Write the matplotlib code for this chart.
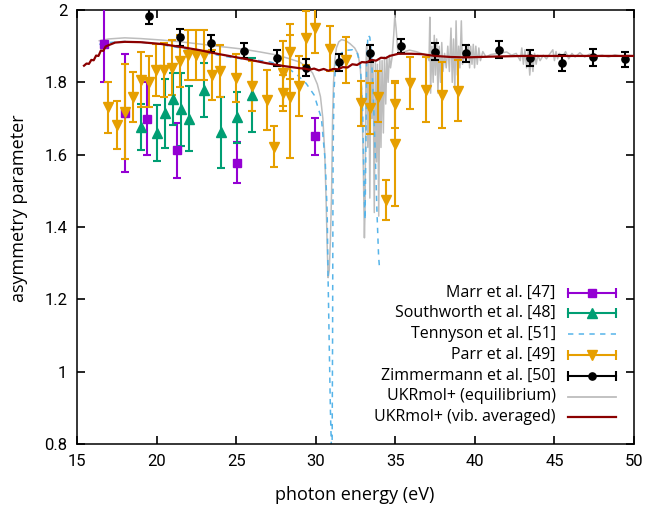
import matplotlib
matplotlib.use("Agg")
import matplotlib.pyplot as plt
from matplotlib.lines import Line2D

# ---------------- data ----------------
marr_E = [16.71, 18.01, 19.38, 21.26, 25.03, 29.98]
marr_b = [1.905, 1.715, 1.700, 1.612, 1.578, 1.651]
marr_err = [0.104, 0.163, 0.100, 0.076, 0.056, 0.051]

south_E = [19.02, 20.00, 20.52, 21.05, 21.53, 22.03, 22.99, 24.02, 25.03, 25.97]
south_b = [1.677, 1.660, 1.714, 1.754, 1.726, 1.700, 1.779, 1.662, 1.703, 1.765]
south_err = [0.063, 0.078, 0.095, 0.072, 0.101, 0.091, 0.075, 0.098, 0.070, 0.102]

parr_E = [16.96, 17.49, 18.01, 18.50, 19.00, 19.52, 19.96, 20.48, 20.98, 21.47,
          21.99, 22.47, 22.97, 23.46, 23.98, 24.98, 25.97, 26.97, 27.37, 27.95,
          27.92, 28.41, 28.41, 28.94, 29.42, 29.94, 30.88, 31.93, 32.87, 33.44,
          33.91, 34.44, 34.96, 34.96, 35.95, 36.95, 37.96, 38.94]
parr_b = [1.731, 1.682, 1.719, 1.759, 1.807, 1.802, 1.833, 1.834, 1.841, 1.859,
          1.876, 1.876, 1.876, 1.820, 1.832, 1.811, 1.790, 1.751, 1.622, 1.825,
          1.770, 1.885, 1.760, 1.790, 1.922, 1.950, 1.893, 1.862, 1.742, 1.728,
          1.760, 1.474, 1.740, 1.629, 1.797, 1.779, 1.765, 1.777]
parr_err = [0.070, 0.067, 0.132, 0.070, 0.076, 0.070, 0.072, 0.075, 0.076, 0.072,
            0.070, 0.070, 0.070, 0.070, 0.072, 0.066, 0.069, 0.083, 0.057, 0.090,
            0.050, 0.075, 0.170, 0.084, 0.075, 0.070, 0.063, 0.063, 0.062, 0.070,
            0.070, 0.055, 0.065, 0.170, 0.072, 0.090, 0.092, 0.084]

zimm_E = [19.54, 21.47, 23.39, 25.50, 27.54, 29.42, 31.47, 33.44, 35.38, 37.47,
          39.42, 41.49, 43.44, 45.49, 47.45, 49.44]
zimm_b = [1.983, 1.924, 1.908, 1.888, 1.867, 1.841, 1.855, 1.880, 1.900, 1.885,
          1.880, 1.890, 1.868, 1.853, 1.869, 1.864]
zimm_err = [0.023, 0.023, 0.024, 0.022, 0.022, 0.023, 0.023, 0.024, 0.019, 0.024,
            0.024, 0.024, 0.022, 0.023, 0.023, 0.021]

tenn_E = [16.4, 17.0, 18.0, 19.0, 20.0, 21.0, 22.0, 23.0, 24.0, 25.0, 26.0, 27.0,
          27.5, 28.3, 28.9, 29.4, 29.9, 30.36, 30.6, 30.72, 30.78, 30.86, 30.92,
          30.99, 31.03, 31.06, 31.09, 31.15, 31.25, 31.4, 31.8, 32.3, 32.6, 32.8,
          32.95, 33.05, 33.1, 33.15, 33.2, 33.28, 33.4, 33.5, 33.62, 33.75, 33.85,
          33.95, 34.02]
tenn_b = [1.905, 1.910, 1.913, 1.911, 1.906, 1.899, 1.891, 1.882, 1.874, 1.867,
          1.862, 1.858, 1.852, 1.838, 1.818, 1.797, 1.765, 1.700, 1.580, 1.440,
          1.250, 1.050, 0.900, 0.780, 0.780, 1.100, 1.600, 1.780, 1.845, 1.872,
          1.888, 1.890, 1.882, 1.850, 1.720, 1.480, 1.420, 1.620, 1.850, 1.930,
          1.925, 1.875, 1.760, 1.590, 1.440, 1.320, 1.280]

eq_E = [16.4, 17.0, 18.0, 19.0, 20.3, 21.5, 22.7, 23.8, 25.4, 26.5, 27.5, 28.3,
        29.0, 29.5, 29.8, 30.1, 30.3, 30.45, 30.57, 30.65, 30.72, 30.78, 30.85,
        30.92, 31.0, 31.06, 31.12, 31.2, 31.3, 31.45, 31.62, 31.9, 32.15, 32.45,
        32.66, 32.8, 32.9, 32.97, 33.03, 33.06, 33.1, 33.13, 33.16,
        33.2, 33.27, 33.33, 33.4, 33.47, 33.53, 33.6, 33.68, 33.75, 33.82, 33.88,
        33.96, 34.03, 34.1, 34.17, 34.25, 34.32, 34.4, 34.47, 34.55, 34.63, 34.7,
        34.8, 34.9, 34.97, 35.05, 35.15, 35.3, 35.6, 35.9, 36.3, 36.64, 37.0,
        37.12, 37.17, 37.22, 37.3, 37.38, 37.45, 37.52, 37.6, 37.68, 37.76, 37.84,
        37.92, 38.0, 38.1, 38.2, 38.3, 38.4, 38.5, 38.58, 38.66, 38.74, 38.82,
        38.9, 38.98, 39.06, 39.15, 39.22, 39.3, 39.5, 39.6, 39.67, 39.74, 39.82,
        39.9, 39.98, 40.06, 40.15, 40.25, 40.35, 40.5, 40.7, 41.0, 41.5, 42.0,
        42.3, 42.6, 42.85, 42.95, 43.05, 43.15, 43.25, 43.35, 43.45, 43.55, 43.65,
        43.75, 43.85, 43.95, 44.1, 44.3, 44.5, 44.7, 44.9, 45.0, 45.1, 45.2, 45.3,
        45.5, 45.7, 45.9, 46.1, 46.3, 46.6, 46.9, 47.2, 47.6, 48.0, 48.4, 48.8,
        49.2, 49.6, 50.0]
eq_b = [1.915, 1.920, 1.923, 1.921, 1.917, 1.912, 1.906, 1.900, 1.892, 1.884,
        1.876, 1.866, 1.856, 1.840, 1.826, 1.795, 1.760, 1.700, 1.600, 1.480,
        1.350, 1.260, 1.280, 1.360, 1.500, 1.700, 1.800, 1.860, 1.895, 1.912,
        1.918, 1.915, 1.907, 1.895, 1.878, 1.840, 1.770, 1.620, 1.450, 1.370,
        1.450, 1.650, 1.850,
        1.900, 1.620, 1.880, 1.480, 1.870, 1.700, 1.860, 1.440, 1.860, 1.580,
        1.850, 1.430, 1.860, 1.620, 1.860, 1.660, 1.870, 1.740, 1.870, 1.800,
        1.875, 1.840, 1.870, 1.930, 1.985, 1.950, 1.890, 1.878, 1.885, 1.889,
        1.885, 1.880, 1.875,
        1.860, 1.980, 1.770, 1.900, 1.800, 1.930, 1.820, 1.920, 1.770, 1.900,
        1.800, 1.910, 1.830, 1.880, 1.840, 1.900, 1.830, 1.950, 1.800, 1.920,
        1.780, 1.970, 1.820, 1.900, 1.840, 1.970, 1.850, 1.870, 1.880, 1.905,
        1.840, 1.900, 1.850, 1.905, 1.840, 1.900, 1.850, 1.895, 1.860, 1.885,
        1.870, 1.877, 1.880, 1.884, 1.875, 1.880, 1.860, 1.895, 1.850, 1.890,
        1.840, 1.885, 1.820, 1.875, 1.830, 1.880, 1.850, 1.875, 1.860, 1.875,
        1.865, 1.878, 1.890, 1.860, 1.885, 1.865, 1.880, 1.870, 1.885, 1.865,
        1.880, 1.870, 1.882, 1.870, 1.878, 1.872, 1.875, 1.870, 1.876, 1.872,
        1.875, 1.873]

vib_E = [15.44, 15.6, 15.75, 15.9, 16.05, 16.2, 16.35, 16.5, 16.65, 16.8, 17.0,
         17.4, 18.0, 19.0, 20.3, 21.5, 22.7, 23.8, 24.8, 25.9, 26.9, 28.0, 29.0,
         29.3, 29.6, 29.9, 30.2, 30.5, 30.8, 31.1, 31.4, 31.7, 32.0, 32.3, 32.6,
         32.9, 33.2, 33.5, 33.8, 34.1, 34.4, 34.65, 35.2, 36.0, 36.64, 37.5, 38.5,
         39.4, 41.0, 43.0, 45.0, 47.0, 50.0]
vib_b = [1.846, 1.852, 1.851, 1.862, 1.861, 1.874, 1.873, 1.888, 1.887, 1.899,
         1.903, 1.910, 1.912, 1.911, 1.906, 1.898, 1.889, 1.879, 1.871, 1.862,
         1.853, 1.845, 1.839, 1.838, 1.835, 1.838, 1.833, 1.837, 1.832, 1.837,
         1.836, 1.842, 1.841, 1.850, 1.848, 1.856, 1.855, 1.862, 1.860, 1.868,
         1.867, 1.873, 1.879, 1.879, 1.878, 1.873, 1.870, 1.869, 1.871, 1.873,
         1.873, 1.873, 1.873]

labels = ["Marr et al. [47]", "Southworth et al. [48]", "Tennyson et al. [51]",
          "Parr et al. [49]", "Zimmermann et al. [50]", "UKRmol+ (equilibrium)",
          "UKRmol+ (vib. averaged)"]
xticks = [15, 20, 25, 30, 35, 40, 45, 50]
yticks = [0.8, 1.0, 1.2, 1.4, 1.6, 1.8, 2.0]
ytick_labels = ["0.8", "1", "1.2", "1.4", "1.6", "1.8", "2"]

# ---------------- style ----------------
C_MARR = "#9400d3"
C_SOUTH = "#009e73"
C_TENN = "#56b4e9"
C_PARR = "#e69f00"
C_ZIMM = "#000000"
C_EQ = "#bdbdbd"
C_VIB = "#8b0000"

TXT_FONT = ["Open Sans", "DejaVu Sans"]
TICK_FONT = ["Roboto", "DejaVu Sans"]

fig = plt.figure(figsize=(6.48, 5.09), dpi=100)
L, R, T, B = 77, 634, 10, 444
W, H = 648, 509
ax = fig.add_axes([L / W, (H - B) / H, (R - L) / W, (B - T) / H])

ax.plot(eq_E, eq_b, color=C_EQ, lw=1.1, zorder=2)
ax.plot(tenn_E, tenn_b, color=C_TENN, lw=1.1, ls=(0, (3.5, 3.5)), zorder=2.5)

eb_kw = dict(elinewidth=1.5, capsize=3.2, capthick=1.5, ls="none", zorder=3)
ax.errorbar(marr_E, marr_b, yerr=marr_err, color=C_MARR, marker="s", ms=5.5, **eb_kw)
ax.errorbar(south_E, south_b, yerr=south_err, color=C_SOUTH, marker="^", ms=7, **eb_kw)
ax.errorbar(parr_E, parr_b, yerr=parr_err, color=C_PARR, marker="v", ms=7, **eb_kw)
ax.errorbar(zimm_E, zimm_b, yerr=zimm_err, color=C_ZIMM, marker="o", ms=5.2, **eb_kw)

ax.plot(vib_E, vib_b, color=C_VIB, lw=1.6, zorder=4)

ax.set_xlim(15, 50)
ax.set_ylim(0.8, 2.0)
ax.set_xticks(xticks)
ax.set_xticklabels([str(t) for t in xticks])
ax.set_yticks(yticks)
ax.set_yticklabels(ytick_labels)
ax.tick_params(direction="in", length=5.5, width=1.2, top=True, right=True,
               labelsize=12, pad=7, colors="black")
for lab in ax.get_xticklabels() + ax.get_yticklabels():
    lab.set_family(TICK_FONT)
for s in ax.spines.values():
    s.set_linewidth(1.1)

ax.set_xlabel("photon energy (eV)", family=TXT_FONT, fontsize=13)
ax.set_ylabel("asymmetry parameter", family=TXT_FONT, fontsize=13)
ax.xaxis.set_label_coords((355 - L) / (R - L), -(495 - B) / (B - T))
ax.yaxis.set_label_coords(-(L - 19) / (R - L), (B - 208) / (B - T))
ax.xaxis.label.set_va("center")
ax.yaxis.label.set_va("center")

# ---------------- legend (gnuplot style, text right-aligned, sample on right) ----------------
rows_px = [292.7, 313.3, 334.0, 355.0, 376.0, 396.5, 417.0]
text_px = 555.7
s0_px, s1_px = 567.7, 615.7
ax_x = lambda px: (px - L) / (R - L)
ax_y = lambda py: (B - py) / (B - T)
styles = [("eb", C_MARR, "s", 5.5), ("eb", C_SOUTH, "^", 7), ("dash", C_TENN, None, 0),
          ("eb", C_PARR, "v", 7), ("eb", C_ZIMM, "o", 5.2), ("line", C_EQ, None, 0),
          ("line", C_VIB, None, 0)]
for lab, py, (kind, col, mk, ms) in zip(labels, rows_px, styles):
    yy = ax_y(py)
    ax.text(ax_x(text_px), yy, lab, transform=ax.transAxes, ha="right", va="center",
            family=TXT_FONT, fontsize=11.5, zorder=6)
    x0, x1 = ax_x(s0_px), ax_x(s1_px)
    if kind == "eb":
        ax.add_line(Line2D([x0, x1], [yy, yy], color=col, lw=1.5, transform=ax.transAxes, zorder=6))
        ax.add_line(Line2D([x0, x1], [yy, yy], color=col, ls="none", marker="|", ms=7,
                           mew=1.5, transform=ax.transAxes, zorder=6))
        ax.add_line(Line2D([(x0 + x1) / 2], [yy], color=col, ls="none", marker=mk, ms=ms,
                           transform=ax.transAxes, zorder=6))
    elif kind == "dash":
        ax.add_line(Line2D([x0, x1], [yy, yy], color=col, lw=1.1, ls=(0, (3.5, 3.5)),
                           transform=ax.transAxes, zorder=6))
    else:
        ax.add_line(Line2D([x0, x1], [yy, yy], color=col, lw=1.6 if col == C_VIB else 1.3,
                           transform=ax.transAxes, zorder=6))

fig.savefig("out.png", dpi=100)
